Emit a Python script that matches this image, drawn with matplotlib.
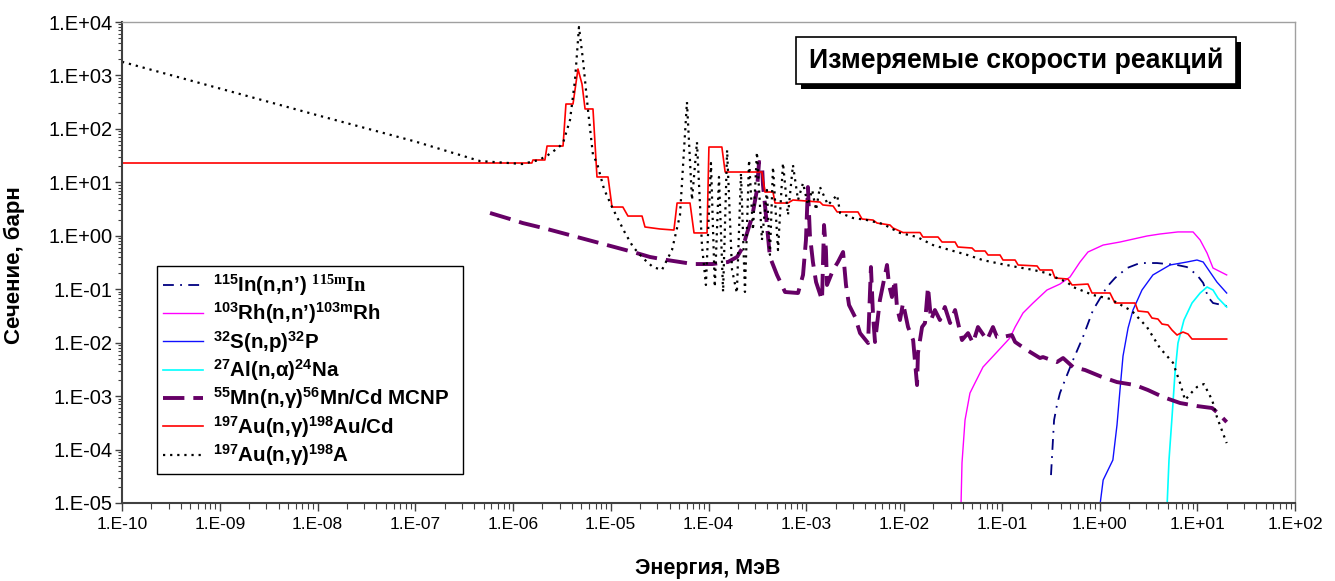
import numpy as np
import matplotlib
matplotlib.use('Agg')
import matplotlib.pyplot as plt
from matplotlib.ticker import LogLocator, FuncFormatter, NullFormatter
from matplotlib.patches import Rectangle

plt.rcParams['font.family'] = ['Liberation Sans', 'DejaVu Sans']
plt.rcParams['mathtext.fontset'] = 'custom'
plt.rcParams['mathtext.rm'] = 'Liberation Sans:bold'
plt.rcParams['mathtext.it'] = 'Liberation Sans:bold'
plt.rcParams['mathtext.bf'] = 'Liberation Sans:bold'
plt.rcParams['mathtext.sf'] = 'Liberation Serif:bold'

# 115In(n,n')115mIn
in_e = [0.319, 0.334, 0.343, 0.367, 0.394, 0.444, 0.536, 0.678, 0.859, 1.19, 1.44,
        1.91, 2.59, 3.87, 6.21, 7.85, 9.94, 11.5, 12.9, 14.5, 20.0]
in_s = [3.33e-5, 1.51e-4, 3.56e-4, 6.81e-4, 1.14e-3, 2.00e-3, 4.73e-3, 1.28e-2, 4.08e-2,
        0.110, 0.162, 0.249, 0.309, 0.309, 0.284, 0.260, 0.185, 0.131, 0.0714, 0.0552, 0.0485]

# 103Rh(n,n')103mRh
rh_e = [3.80e-2, 3.92e-2, 4.21e-2, 4.73e-2, 5.32e-2, 6.43e-2, 8.93e-2, 0.121, 0.137, 0.165,
        0.209, 0.290, 0.394, 0.499, 0.632, 0.762, 1.09, 1.62, 3.06, 4.16, 6.35, 9.06,
        10.7, 12.6, 14.5, 20.0]
rh_s = [5.0e-6, 5.60e-5, 3.56e-4, 1.14e-3, 1.76e-3, 3.50e-3, 6.68e-3, 1.22e-2, 1.96e-2,
        3.59e-2, 5.52e-2, 9.66e-2, 0.125, 0.169, 0.323, 0.497, 0.671, 0.764, 0.99, 1.08,
        1.18, 1.18, 0.834, 0.475, 0.249, 0.185]

# 32S(n,p)32P
s_e = [0.97, 1.09, 1.37, 1.51, 1.62, 1.74, 1.96, 2.20, 2.72, 3.52, 5.26, 7.85, 9.94,
       11.5, 13.5, 15.9, 20.0]
s_s = [5.0e-6, 2.69e-5, 6.37e-5, 2.88e-4, 1.30e-3, 5.62e-3, 1.88e-2, 4.08e-2, 9.66e-2,
       0.185, 0.284, 0.323, 0.352, 0.323, 0.210, 0.136, 0.0849]

# 27Al(n,a)24Na
al_e = [4.85, 5.14, 5.52, 5.92, 6.35, 7.31, 8.84, 10.7, 12.6, 14.5, 16.3, 20.0]
al_s = [5.0e-6, 6.37e-5, 4.06e-4, 2.70e-3, 9.84e-3, 0.0265, 0.0552, 0.0849, 0.110,
        0.0966, 0.0684, 0.0465]

# 55Mn(n,g)56Mn/Cd MCNP
mn_e = [5.82e-7, 9.31e-7, 1.26e-6, 2.23e-6, 4.52e-6, 9.16e-6, 1.69e-5, 2.52e-5, 3.76e-5,
        5.11e-5, 6.93e-5, 1.09e-4, 1.58e-4, 1.96e-4, 2.25e-4, 2.48e-4, 2.79e-4, 3.13e-4,
        3.29e-4, 3.52e-4, 3.61e-4, 3.96e-4, 4.25e-4, 5.02e-4, 6.07e-4, 8.24e-4, 9.27e-4,
        9.93e-4, 1.04e-3, 1.09e-3, 1.17e-3, 1.26e-3, 1.45e-3, 1.52e-3, 1.59e-3, 1.63e-3,
        1.88e-3, 2.11e-3, 2.38e-3, 2.55e-3, 2.74e-3, 3.16e-3, 3.55e-3, 4.29e-3, 4.59e-3,
        4.82e-3, 5.05e-3, 5.67e-3, 6.70e-3, 7.03e-3, 7.53e-3, 8.09e-3, 8.47e-3, 9.10e-3,
        9.77e-3, 1.10e-2, 1.24e-2, 1.36e-2, 1.39e-2, 1.53e-2, 1.64e-2, 1.76e-2, 1.89e-2,
        2.07e-2, 2.33e-2, 2.62e-2, 2.96e-2, 3.33e-2, 3.92e-2, 4.52e-2, 5.08e-2, 5.71e-2,
        7.06e-2, 8.13e-2, 8.93e-2, 0.103, 0.127, 0.137, 0.181, 0.246, 0.264, 0.367, 0.424,
        0.536, 0.711, 1.06, 1.51, 2.31, 3.13, 4.47, 6.67, 9.94, 14.2, 16.3, 20.0]
mn_s = [2.67, 2.06, 1.73, 1.34, 0.948, 0.671, 0.497, 0.401, 0.352,
        0.323, 0.296, 0.296, 0.323, 0.401, 0.616, 1.13, 2.24, 7.18,
        24.0, 23.0, 8.91, 1.59, 0.401, 0.185, 0.0887, 0.0849, 0.185,
        0.834, 8.17, 1.03, 0.323, 0.136, 0.0628, 1.59, 0.542, 0.120,
        0.229, 0.323, 0.497, 0.120, 0.0506, 0.0302, 0.0151, 0.00984, 0.260,
        0.0329, 0.0103, 0.0628, 0.284, 0.120, 0.0714, 0.149, 0.0465, 0.0265,
        0.0552, 0.0196, 0.0112, 0.00161, 0.00640, 0.0196, 0.0233, 0.110, 0.0265,
        0.0408, 0.0265, 0.0465, 0.0233, 0.0408, 0.0112, 0.0151, 0.00984, 0.0196,
        0.0112, 0.0196, 0.0128, 0.0128, 0.0139, 0.0103, 0.00728, 0.00516, 0.00538, 0.00434, 0.00516,
        0.00350, 0.00308, 0.00228, 0.00183, 0.00161, 0.00130, 9.61e-4, 7.43e-4, 6.52e-4, 5.98e-4, 4.82e-4, 3.27e-4]

# 197Au(n,g)198Au/Cd, group-wise
aucd_e = [1e-10, 1.56e-6, 1.60e-6, 2.12e-6, 2.23e-6, 3.25e-6, 3.48e-6, 4.11e-6, 4.62e-6,
          5.08e-6, 5.46e-6, 6.58e-6, 7.23e-6, 9.38e-6, 1.03e-5, 1.33e-5, 1.50e-5, 2.09e-5,
          2.24e-5, 3.19e-5, 4.43e-5, 4.77e-5, 6.47e-5, 7.11e-5, 9.66e-5, 1.01e-4, 1.37e-4,
          1.48e-4, 3.52e-4, 3.78e-4, 4.57e-4, 4.79e-4, 6.50e-4, 7.31e-4, 1.38e-3, 1.48e-3,
          1.88e-3, 2.07e-3, 3.38e-3, 3.72e-3, 4.82e-3, 5.30e-3, 7.19e-3, 7.71e-3, 9.77e-3,
          1.46e-2, 1.56e-2, 2.23e-2, 2.45e-2, 3.33e-2, 3.56e-2, 4.97e-2, 5.32e-2, 6.75e-2,
          7.23e-2, 9.6e-2, 0.103, 0.137, 0.147, 0.230, 0.246, 0.327, 0.351, 0.476, 0.524,
          0.762, 0.838, 1.28, 1.44, 2.31, 2.48, 3.13, 3.44, 3.96, 4.36, 5.02, 5.52, 6.21,
          7.14, 8.04, 8.84, 20.0]
aucd_s = [23.0, 23.0, 26.2, 26.2, 47.8, 47.8, 292, 292, 1.32e3,
          692, 236, 236, 12.6, 12.6, 3.45, 3.45, 2.34, 2.34,
          1.46, 1.34, 1.28, 4.10, 4.10, 1.13, 1.13, 45.8, 45.8,
          15.6, 15.6, 6.59, 6.59, 4.10, 4.10, 4.67, 4.28, 3.77,
          3.61, 2.79, 2.79, 2.06, 1.97, 1.73, 1.59, 1.40, 1.15,
          1.15, 0.948, 0.948, 0.764, 0.764, 0.616, 0.590, 0.519, 0.519,
          0.437, 0.437, 0.352, 0.352, 0.284, 0.272, 0.229, 0.229, 0.162, 0.155, 0.120,
          0.125, 0.085, 0.085, 0.0552, 0.0552, 0.0391, 0.0374, 0.0289, 0.0277, 0.0223, 0.0214, 0.0172, 0.0139,
          0.0158, 0.0145, 0.0117, 0.0117]

# 197Au(n,g)198Au total
au_e = [1e-10, 1e-9, 1e-8, 1e-7, 4.6e-7, 9.0e-7, 1.24e-6, 1.85e-6, 2.28e-6, 2.88e-6,
        3.25e-6, 3.83e-6, 4.31e-6, 4.73e-6, 5.20e-6, 5.85e-6, 6.58e-6, 7.23e-6, 8.53e-6,
        1.03e-5, 1.16e-5, 1.40e-5, 1.69e-5, 2.14e-5, 2.70e-5, 3.34e-5, 4.23e-5, 5.11e-5,
        6.02e-5, 6.78e-5, 7.62e-5, 8.57e-5, 9.41e-5, 1.06e-4, 1.16e-4, 1.28e-4, 1.41e-4,
        1.55e-4, 1.74e-4, 1.95e-4, 2.15e-4, 2.36e-4, 2.60e-4, 2.85e-4, 3.13e-4, 3.52e-4,
        3.96e-4, 4.25e-4, 4.57e-4, 5.14e-4, 5.78e-4, 6.50e-4, 7.31e-4, 8.24e-4, 9.27e-4,
        1.04e-3, 1.15e-3, 1.26e-3, 1.38e-3, 1.67e-3, 2.07e-3, 2.22e-3, 3.01e-3, 4.18e-3,
        6.09e-3, 9.1e-3, 1.36e-2, 1.98e-2, 2.96e-2, 4.41e-2, 6.43e-2, 9.6e-2, 0.143, 0.209,
        0.290, 0.367, 0.465, 0.536, 0.857, 1.28, 2.15, 3.06, 4.16, 5.65, 6.67, 7.50, 8.84,
        9.94, 11.7, 14.2, 15.9, 20.0]
au_s = [1.8e3, 5.7e2, 1.8e2, 58, 25, 23, 22, 26.2, 32.4, 43.9,
        54.5, 147, 822, 8.06e3, 1.95e3, 225, 32.4, 23, 7.5,
        3.45, 2.24, 1.13, 0.62, 0.38, 0.26, 0.23, 0.54, 2.44,
        318, 4.67, 56.8, 0.67, 0.12, 23, 0.11, 12.6, 0.089,
        40.3, 0.23, 0.085, 14.9, 0.089, 26.2, 1.28, 36.9, 0.83,
        7.2, 0.44, 19.4, 0.54, 23, 2.44, 21.1, 4.67, 9.7,
        3.77, 7.2, 3.03, 8.2, 3.77, 5.8, 2.67, 2.15, 1.97,
        1.66, 1.13, 0.95, 0.67, 0.54, 0.44, 0.35, 0.30, 0.26, 0.23,
        0.20, 0.162, 0.136, 0.11, 0.078, 0.066, 0.039, 0.0196, 0.0079, 0.0042, 0.00176, 8.45e-4, 1.19e-3,
        1.48e-3, 1.68e-3, 8.45e-4, 4.06e-4, 1.32e-4]

labels = [r'$^{115}$In(n,n’) $^{\mathsf{115m}}\mathsf{In}$',
          r'$^{103}$Rh(n,n’)$^{103m}$Rh',
          r'$^{32}$S(n,p)$^{32}$P',
          r'$^{27}$Al(n,α)$^{24}$Na',
          r'$^{55}$Mn(n,γ)$^{56}$Mn/Cd MCNP',
          r'$^{197}$Au(n,γ)$^{198}$Au/Cd',
          r'$^{197}$Au(n,γ)$^{198}$A']

fig = plt.figure(figsize=(13.35, 5.81), dpi=100)
ax = fig.add_axes([122 / 1335, 78 / 581, 1173 / 1335, 481 / 581])

ax.plot(in_e, in_s, color='#000080', lw=1.3, ls=(0, (6, 3.5, 1, 3.5)), label=labels[0])
ax.plot(rh_e, rh_s, color='#ff00ff', lw=1.0, label=labels[1])
ax.plot(s_e, s_s, color='#1010ff', lw=1.0, label=labels[2])
ax.plot(al_e, al_s, color='#00ffff', lw=1.2, label=labels[3])
ax.plot(mn_e, mn_s, color='#660066', lw=2.8, ls=(0, (5.5, 2.3)), label=labels[4])
ax.plot(aucd_e, aucd_s, color='#ff0000', lw=1.2, label=labels[5])
ax.plot(au_e, au_s, color='black', lw=1.6, ls=(0, (1, 2.2)), label=labels[6])

ax.set_xscale('log')
ax.set_yscale('log')
ax.set_xlim(1e-10, 1e2)
ax.set_ylim(1e-5, 1e4)

fmt = FuncFormatter(lambda v, p: '1.E{:+03d}'.format(int(round(np.log10(v)))))
for axis in (ax.xaxis, ax.yaxis):
    axis.set_major_locator(LogLocator(base=10, numticks=30))
    axis.set_minor_locator(LogLocator(base=10, subs=np.arange(2, 10), numticks=300))
    axis.set_major_formatter(fmt)
    axis.set_minor_formatter(NullFormatter())

ax.tick_params(which='both', direction='out', color='#404040')
ax.tick_params(axis='y', which='major', length=5, width=1.0, labelsize=14.5, pad=2)
ax.tick_params(axis='y', which='minor', length=3, width=0.8)
ax.tick_params(axis='x', which='major', length=6, width=1.0, labelsize=12.5, pad=4)
ax.tick_params(axis='x', which='minor', length=4, width=0.8)

for side in ('left', 'bottom'):
    ax.spines[side].set_color('#404040')
    ax.spines[side].set_linewidth(1.5)
for side in ('top', 'right'):
    ax.spines[side].set_color('#a0a0a0')
    ax.spines[side].set_linewidth(1.0)

ax.set_ylabel('Сечение, барн', fontsize=16, fontweight='bold')
ax.yaxis.set_label_coords(-0.0827, 0.495)
ax.set_xlabel('Энергия, МэВ', fontsize=15.5, fontweight='bold')
ax.xaxis.set_label_coords(0.4996, -0.115)

leg = ax.legend(loc='upper left', bbox_to_anchor=(0.030, 0.0644, 0.261, 0.4286),
                mode='expand', fancybox=False, framealpha=1, edgecolor='black',
                prop={'weight': 'bold', 'size': 14.8}, handlelength=1.95,
                handletextpad=0.45, labelspacing=0.12, borderpad=0.3, borderaxespad=0)
leg.get_frame().set_linewidth(1.0)

# framed title with a drop shadow
bx0, bx1 = (796 - 122) / 1173, (1236 - 122) / 1173
by0, by1 = (503 - 84) / 481, (503 - 37) / 481
ax.add_patch(Rectangle((bx0 + 5 / 1173, by0 - 5 / 481), bx1 - bx0, by1 - by0,
                       transform=ax.transAxes, facecolor='black', edgecolor='none', zorder=5))
ax.add_patch(Rectangle((bx0, by0), bx1 - bx0, by1 - by0, transform=ax.transAxes,
                       facecolor='white', edgecolor='black', lw=1.2, zorder=6))
ax.text((bx0 + bx1) / 2, (by0 + by1) / 2, 'Измеряемые скорости реакций',
        transform=ax.transAxes, ha='center', va='center', fontsize=19.3,
        fontweight='bold', zorder=7)

fig.savefig('out.png', dpi=100)
